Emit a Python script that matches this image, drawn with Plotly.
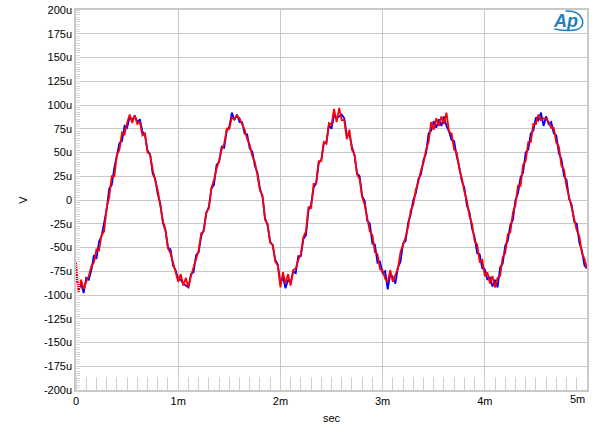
import plotly.graph_objects as go

# time in ms, values in microvolts
t_ms = [round(i * 0.025, 3) for i in range(201)]

blue_uV = [
    -78, -94, -88, -98, -82, -84, -74, -58, -62, -44, -38, -22, -10, 12, 16, 34, 46, 60, 62, 78,
    76, 87, 84, 89, 82, 85, 72, 68, 52, 48, 28, 22, 6, -4, -24, -32, -50, -52, -69, -74,
    -83, -84, -88, -90, -92, -78, -76, -58, -55, -38, -31, -14, -7, 12, 16, 37, 40, 56, 55, 73,
    77, 92, 84, 90, 82, 82, 70, 69, 54, 51, 36, 29, 12, 3, -19, -27, -44, -48, -63, -68,
    -88, -81, -93, -84, -87, -75, -77, -59, -59, -41, -37, -11, -5, 13, 18, 39, 42, 60, 61, 79,
    75, 89, 86, 88, 90, 86, 68, 69, 56, 47, 28, 25, 4, -1, -22, -25, -46, -47, -66, -65,
    -77, -75, -94, -78, -81, -88, -71, -65, -46, -43, -24, -15, 0, 7, 22, 27, 42, 49, 70, 73,
    83, 76, 85, 78, 88, 78, 72, 63, 62, 46, 35, 20, 13, -6, -13, -30, -39, -56, -57, -72,
    -73, -84, -81, -91, -84, -92, -71, -67, -48, -43, -26, -21, 0, 7, 24, 29, 50, 53, 70, 73,
    87, 84, 92, 78, 88, 80, 82, 70, 68, 49, 43, 25, 21, 1, -5, -23, -25, -45, -53, -69,
    -72,
]

red_uV = [
    -66, -97, -84, -94, -86, -80, -70, -66, -52, -53, -37, -33, -8, 3, 25, 25, 47, 53, 71, 69,
    81, 90, 81, 89, 80, 82, 68, 70, 50, 48, 32, 20, 10, -6, -22, -31, -51, -56, -66, -73,
    -86, -78, -90, -82, -92, -80, -72, -62, -53, -35, -33, -13, -9, 13, 21, 33, 41, 53, 59, 75,
    75, 87, 85, 89, 86, 80, 74, 64, 58, 46, 40, 26, 10, 5, -21, -25, -45, -47, -65, -69,
    -92, -76, -88, -78, -90, -74, -72, -63, -57, -39, -33, -7, -9, 17, 17, 41, 41, 61, 59, 81,
    79, 96, 82, 97, 84, 84, 64, 74, 53, 48, 27, 22, 3, -5, -18, -33, -37, -55, -57, -73,
    -74, -83, -86, -74, -86, -78, -72, -55, -48, -39, -28, -11, -5, 11, 19, 31, 39, 53, 61, 82,
    74, 86, 78, 88, 80, 92, 72, 70, 53, 50, 33, 23, 9, -1, -17, -25, -43, -47, -65, -63,
    -80, -76, -88, -80, -92, -82, -80, -60, -56, -36, -34, -13, -5, 15, 15, 37, 41, 61, 61, 80,
    80, 90, 84, 86, 86, 82, 76, 76, 60, 56, 36, 32, 14, 4, -8, -20, -32, -38, -56, -62,
    -72,
]

x_tickvals = [0, 1, 2, 3, 4, 5]
x_ticktext = ["0", "1m", "2m", "3m", "4m", ""]
x_last_label = "5m"
y_tickvals = [200, 175, 150, 125, 100, 75, 50, 25, 0, -25, -50, -75, -100, -125, -150, -175, -200]
y_ticktext = ["200u", "175u", "150u", "125u", "100u", "75u", "50u", "25u", "0",
              "-25u", "-50u", "-75u", "-100u", "-125u", "-150u", "-175u", "-200u"]

fig = go.Figure()
fig.add_trace(go.Scatter(x=t_ms, y=blue_uV, mode="lines",
                         line=dict(color="#0000ff", width=1.8), showlegend=False))
fig.add_trace(go.Scatter(x=t_ms, y=red_uV, mode="lines",
                         line=dict(color="#ff0000", width=1.8), showlegend=False))

grid = "#c8c8c8"
fig.update_layout(
    width=600, height=441,
    margin=dict(l=76, r=13, t=10, b=51, autoexpand=False),
    paper_bgcolor="white", plot_bgcolor="white",
    font=dict(family="Liberation Sans, Arial, sans-serif", size=11, color="#000000"),
    xaxis=dict(
        range=[0, 5], tickvals=x_tickvals, ticktext=x_ticktext, automargin=False,
        showgrid=True, gridcolor=grid, gridwidth=1, zeroline=False,
        showline=True, mirror=True, linecolor=grid, linewidth=1.5,
        ticks="", ticklen=0,
        minor=dict(dtick=0.1, tick0=0, ticks="inside", ticklen=13,
                   tickcolor="#d0d0d0", tickwidth=1, showgrid=False),
        title=dict(text="sec", standoff=8, font=dict(size=11)),
    ),
    yaxis=dict(
        range=[-200, 200], tickvals=y_tickvals, ticktext=y_ticktext, automargin=False,
        showgrid=True, gridcolor=grid, gridwidth=1, zeroline=False,
        showline=True, mirror=True, linecolor=grid, linewidth=1.5,
        ticks="", ticklen=0,
        minor=dict(dtick=2.5, tick0=0, ticks="inside", ticklen=4,
                   tickcolor="#d8d8d8", tickwidth=1, showgrid=False),
        title=dict(text="V", standoff=14, font=dict(size=11)),
    ),
)

# last x tick label, right-aligned to the plot edge as in the reference
fig.add_annotation(xref="x", yref="paper", x=x_tickvals[-1], y=-0.024,
                   xanchor="right", yanchor="middle", text=x_last_label, showarrow=False,
                   font=dict(family="Liberation Sans, Arial, sans-serif", size=11, color="#000000"))

# Audio Precision style logo
fig.add_annotation(xref="paper", yref="paper", x=0.957, y=0.972,
                   xanchor="center", yanchor="middle",
                   text="<b><i>Ap</i></b>", showarrow=False,
                   font=dict(family="Liberation Sans, Arial, sans-serif", size=18, color="#1f7fbf"))
fig.add_shape(type="path", xref="paper", yref="paper",
              path="M 0.936 0.950 Q 0.998 0.935 0.991 0.975 Q 0.984 0.999 0.958 0.997",
              line=dict(color="#1f7fbf", width=1.5))

fig.write_html("out.html")
